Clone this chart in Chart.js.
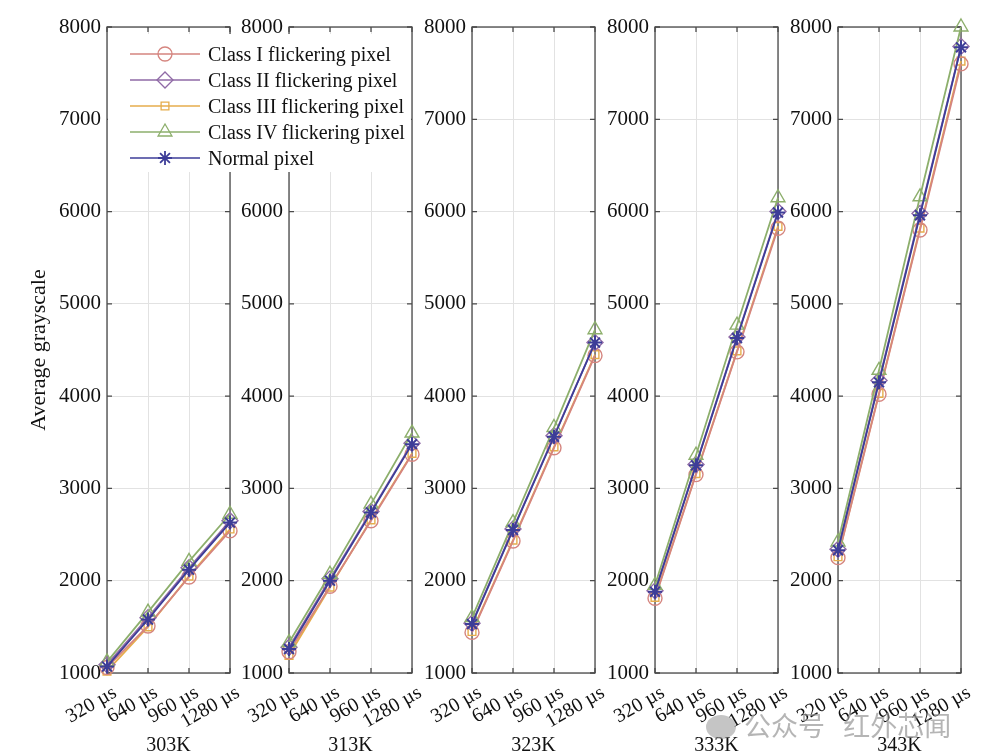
<!DOCTYPE html>
<html>
<head>
<meta charset="utf-8">
<script src="https://cdn.jsdelivr.net/npm/chart.js@4.4.1/dist/chart.umd.min.js"></script>
<style>
body {
  margin: 0;
  width: 1000px;
  height: 756px;
  background: #fff;
  position: relative;
  overflow: hidden;
  font-family: "Liberation Serif", "Times New Roman", serif;
}
canvas.panel {
  position: absolute;
  top: 0;
}
#legend {
  position: absolute;
  left: 108px;
  top: 34px;
  width: 303px;
  height: 138px;
  background: #fff;
  z-index: 5;
}
#legend canvas {
  position: absolute;
  left: 0;
  top: 0;
}
#legend .row {
  position: absolute;
  left: 100px;
  font-size: 20px;
  line-height: 24px;
  color: #111;
  white-space: nowrap;
}
#mark {
  position: absolute;
  left: 706px;
  top: 707px;
  font-family: "Noto Sans CJK SC", sans-serif;
  font-size: 27px;
  line-height: 36px;
  color: rgba(150,150,150,0.7);
  z-index: 6;
  white-space: nowrap;
}
#mark span.dot {
  display: inline-block;
  width: 30px;
  height: 24px;
  border-radius: 50%;
  background: rgba(150,150,150,0.55);
  vertical-align: -3px;
  margin-right: 8px;
}
</style>
</head>
<body>

<div id="legend"><canvas id="legendIcons" width="303" height="138"></canvas></div>
<div id="mark"><span class="dot"></span>公众号&nbsp;&nbsp;&nbsp;红外芯闻</div>

<script>
// exposure times on x, one panel per temperature
var exposures = ["320 µs", "640 µs", "960 µs", "1280 µs"];
var temps = ["303K", "313K", "323K", "333K", "343K"];
var yTicks = [1000, 2000, 3000, 4000, 5000, 6000, 7000, 8000];

// average grayscale, one row per temperature
var class1 = [
  [1060, 1510, 2040, 2540],
  [1230, 1940, 2650, 3370],
  [1440, 2430, 3440, 4440],
  [1810, 3150, 4480, 5820],
  [2250, 4020, 5800, 7600]
];
var class2 = [
  [1090, 1600, 2140, 2650],
  [1280, 2020, 2750, 3490],
  [1540, 2560, 3570, 4580],
  [1890, 3260, 4640, 6000],
  [2340, 4170, 5980, 7790]
];
var class3 = [
  [1020, 1500, 2050, 2560],
  [1190, 1930, 2660, 3380],
  [1450, 2440, 3450, 4450],
  [1820, 3160, 4490, 5840],
  [2260, 4030, 5820, 7630]
];
var class4 = [
  [1120, 1660, 2210, 2720],
  [1330, 2070, 2830, 3600],
  [1600, 2630, 3660, 4720],
  [1950, 3360, 4770, 6150],
  [2420, 4280, 6160, 8000]
];
var normal = [
  [1070, 1580, 2120, 2630],
  [1260, 2000, 2740, 3480],
  [1530, 2550, 3560, 4580],
  [1880, 3250, 4630, 5990],
  [2330, 4150, 5960, 7780]
];

var series = [
  { name: "Class I flickering pixel",   values: class1, color: "#d5857f", style: "circle",   r: 7,   order: 4 },
  { name: "Class II flickering pixel",  values: class2, color: "#8f6aa6", style: "rectRot",  r: 8,   order: 3 },
  { name: "Class III flickering pixel", values: class3, color: "#e6ad4c", style: "rect",     r: 5.5, order: 5 },
  { name: "Class IV flickering pixel",  values: class4, color: "#8daf6c", style: "triangle", r: 8,   order: 2 },
  { name: "Normal pixel",               values: normal, color: "#3d3d98", style: "star",     r: 7,   order: 1 }
];

var font = { family: "Liberation Serif", size: 20 };
var yFont = { family: "Liberation Serif", size: 21 };
var lefts = [107, 289, 472, 655, 838];
var plotW = 123;

// box round the plot area plus inward ticks
var frame = {
  id: "frame",
  beforeDatasetsDraw: function(chart) {
    var a = chart.chartArea, ctx = chart.ctx;
    var x = chart.scales.x, y = chart.scales.y;
    ctx.save();
    ctx.strokeStyle = "#4a4a4a";
    ctx.lineWidth = 1.3;
    ctx.beginPath();
    y.ticks.forEach(function(tk) {
      var py = y.getPixelForValue(tk.value);
      ctx.moveTo(a.left, py); ctx.lineTo(a.left + 5, py);
      ctx.moveTo(a.right, py); ctx.lineTo(a.right - 5, py);
    });
    x.ticks.forEach(function(tk, k) {
      var px = x.getPixelForTick(k);
      ctx.moveTo(px, a.bottom); ctx.lineTo(px, a.bottom - 5);
      ctx.moveTo(px, a.top); ctx.lineTo(px, a.top + 5);
    });
    ctx.stroke();
    ctx.strokeRect(a.left, a.top, a.right - a.left, a.bottom - a.top);
    ctx.restore();
  }
};

temps.forEach(function(t, i) {
  var c = document.createElement("canvas");
  c.className = "panel";
  c.width = 107 + plotW + 20;
  c.height = 756;
  c.style.left = (lefts[i] - 107) + "px";
  document.body.appendChild(c);

  new Chart(c, {
    type: "line",
    data: {
      labels: exposures,
      datasets: series.map(function(s) {
        return {
          label: s.name,
          data: s.values[i],
          borderColor: s.color,
          backgroundColor: "rgba(0,0,0,0)",
          borderWidth: 1.8,
          pointStyle: s.style,
          pointRadius: s.r,
          pointBorderWidth: s.style === "star" ? 2 : 1.4,
          pointBorderColor: s.color,
          pointBackgroundColor: "rgba(0,0,0,0)",
          tension: 0,
          clip: false,
          order: s.order
        };
      })
    },
    options: {
      responsive: false,
      devicePixelRatio: 1,
      animation: false,
      layout: { padding: { left: 22, top: 27, right: 20, bottom: 0 } },
      plugins: { legend: { display: false }, tooltip: { enabled: false } },
      scales: {
        x: {
          offset: false,
          grid: { color: "#e2e2e2", lineWidth: 1, drawTicks: false },
          border: { display: false },
          ticks: {
            font: font, color: "#111", autoSkip: false,
            minRotation: 30, maxRotation: 30, padding: 8, labelOffset: 8
          },
          title: {
            display: true, text: t, color: "#111",
            font: { family: "Liberation Serif", size: 20, lineHeight: 1 },
            padding: { top: 4, bottom: 0 }
          },
          afterFit: function(s) { s.height = 83; }
        },
        y: {
          min: 1000,
          max: 8000,
          afterBuildTicks: function(s) {
            s.ticks = yTicks.map(function(v) { return { value: v }; });
          },
          grid: { color: "#e2e2e2", lineWidth: 1, drawTicks: false },
          border: { display: false },
          ticks: {
            font: yFont, color: "#111", padding: 6,
            callback: function(v) { return String(v); }
          },
          title: {
            display: i === 0, text: "Average grayscale",
            font: { family: "Liberation Serif", size: 22 }, color: "#111"
          },
          afterFit: function(s) { s.width = 85; }
        }
      }
    },
    plugins: [frame]
  });
});

// legend: symbols on a small canvas, names as text
var lg = document.getElementById("legend");
var lctx = document.getElementById("legendIcons").getContext("2d");
series.forEach(function(s, k) {
  var cy = 20 + k * 26;
  var row = document.createElement("div");
  row.className = "row";
  row.style.top = (cy - 12) + "px";
  row.textContent = s.name;
  lg.appendChild(row);

  lctx.strokeStyle = s.color;
  lctx.fillStyle = "rgba(0,0,0,0)";
  lctx.lineWidth = 1.5;
  lctx.beginPath();
  lctx.moveTo(22, cy);
  lctx.lineTo(92, cy);
  lctx.stroke();
  lctx.lineWidth = s.style === "star" ? 1.8 : 1.3;
  Chart.helpers.drawPoint(lctx, { pointStyle: s.style, radius: s.r, rotation: 0, borderWidth: lctx.lineWidth }, 57, cy);
});
</script>
</body>
</html>
